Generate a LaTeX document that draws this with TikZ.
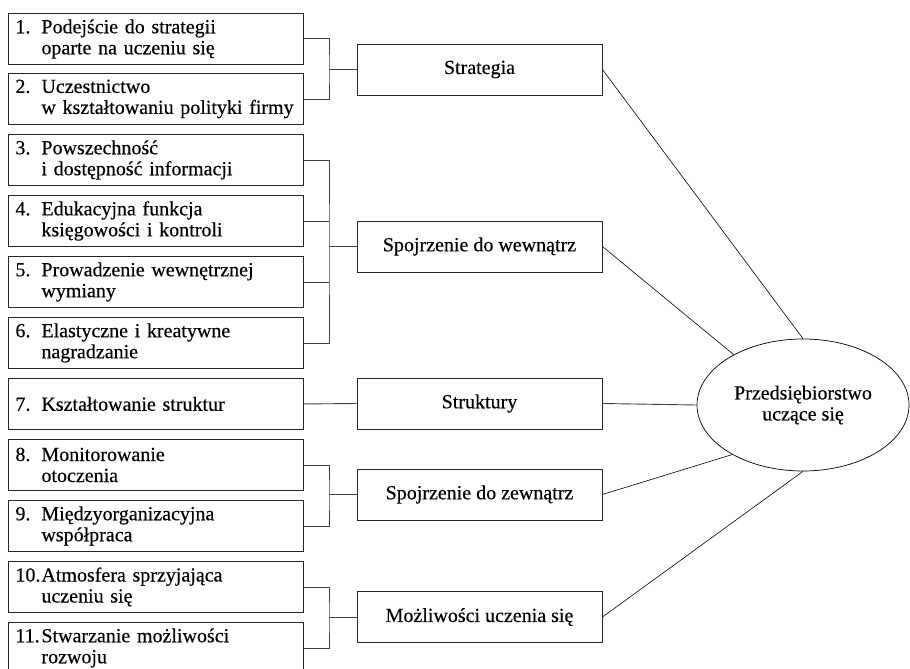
\documentclass[tikz,border=0pt]{standalone}
\usepackage{fontspec}
\setmainfont[FakeBold=0.35]{Liberation Serif}
\usetikzlibrary{shapes.geometric}
\newcommand{\twoline}[3]{\mbox{\makebox[26pt][l]{#1}#2}\\\mbox{\hspace*{26pt}#3}}
\newcommand{\oneline}[2]{\mbox{\makebox[26pt][l]{#1}#2}}
\tikzset{
  txt/.style={font=\fontsize{20}{21}\selectfont},
  leftbox/.style={txt, draw=black!85, line width=0.9pt, anchor=north west,
    text width=281pt, inner xsep=7pt, inner ysep=0pt, minimum height=51pt, align=left},
  midbox/.style={txt, draw=black!85, line width=0.9pt, minimum width=245pt,
    minimum height=51pt, inner sep=0pt},
  bigell/.style={txt, ellipse, draw=black, line width=0.7pt, minimum width=212pt,
    minimum height=132pt, inner sep=0pt, align=center},
  bracket/.style={draw=black!75, line width=0.9pt},
  spoke/.style={draw=black, line width=0.6pt}
}
\begin{document}
\begin{tikzpicture}[x=1pt, y=-1pt]
\useasboundingbox (0,0) rectangle (910,669);
\clip (0,0) rectangle (910,669);
% left boxes
\node[leftbox] (b1) at (8,13) {\twoline{1.}{Podejście do strategii}{oparte na uczeniu się}};
\node[leftbox] (b2) at (8,73) {\twoline{2.}{Uczestnictwo}{w kształtowaniu polityki firmy}};
\node[leftbox] (b3) at (8,134) {\twoline{3.}{Powszechność}{i dostępność informacji}};
\node[leftbox] (b4) at (8,195) {\twoline{4.}{Edukacyjna funkcja}{księgowości i kontroli}};
\node[leftbox] (b5) at (8,256) {\twoline{5.}{Prowadzenie wewnętrznej}{wymiany}};
\node[leftbox] (b6) at (8,317) {\twoline{6.}{Elastyczne i kreatywne}{nagradzanie}};
\node[leftbox] (b7) at (8,378) {\oneline{7.}{Kształtowanie struktur}};
\node[leftbox] (b8) at (8,439) {\twoline{8.}{Monitorowanie}{otoczenia}};
\node[leftbox] (b9) at (8,500) {\twoline{9.}{Międzyorganizacyjna}{współpraca}};
\node[leftbox] (b10) at (8,561) {\twoline{10.}{Atmosfera sprzyjająca}{uczeniu się}};
\node[leftbox] (b11) at (8,622) {\twoline{11.}{Stwarzanie możliwości}{rozwoju}};
% middle boxes
\node[midbox] (m1) at (479.5,69.5) {Strategia};
\node[midbox] (m2) at (479.5,246.5) {Spojrzenie do wewnątrz};
\node[midbox] (m3) at (479.5,403.5) {Struktury};
\node[midbox] (m4) at (479.5,494.5) {Spojrzenie do zewnątrz};
\node[midbox] (m5) at (479.5,617) {Możliwości uczenia się};
% ellipse
\node[bigell] (E) at (803,405) {Przedsiębiorstwo\\uczące się};
% junctions
\coordinate (j1) at (329,69.5);
\coordinate (j2) at (329,246.5);
\coordinate (j4) at (329,494.5);
\coordinate (j5) at (329,617);
% brackets
\draw[bracket] (b1.east) -| (j1) |- (b2.east);
\draw[bracket] (j1) -- (m1.west);
\draw[bracket] (b3.east) -| (j2) |- (b6.east);
\draw[bracket] (b4.east) -- (b4.east -| j2);
\draw[bracket] (b5.east) -- (b5.east -| j2);
\draw[bracket] (j2) -- (m2.west);
\draw[bracket] (b7.east) -- (m3.west);
\draw[bracket] (b8.east) -| (j4) |- (b9.east);
\draw[bracket] (j4) -- (m4.west);
\draw[bracket] (b10.east) -| (j5) |- (b11.east);
\draw[bracket] (j5) -- (m5.west);
% spokes
\draw[spoke] (m1.east) -- (E.90);
\draw[spoke] (m2.east) -- (E.144);
\draw[bracket] (m3.east) -- (E.180);
\draw[spoke] (m4.east) -- (E.215);
\draw[spoke] (m5.east) -- (E.270);
\end{tikzpicture}
\end{document}
